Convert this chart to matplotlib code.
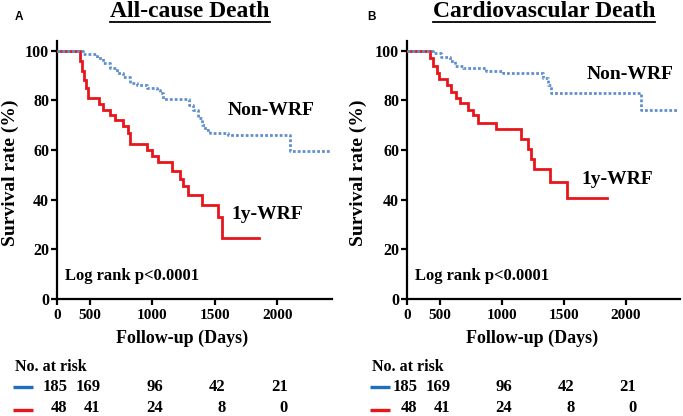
import numpy as np
import matplotlib
matplotlib.use("Agg")
import matplotlib.pyplot as plt
import matplotlib.transforms as mtransforms
from matplotlib.lines import Line2D

# ---------------- data ----------------
a_wrf_t = [0, 350, 380, 410, 440, 475, 575, 607, 660, 700, 767, 807, 820, 954, 994,
           1047, 1154, 1221, 1247, 1287, 1395, 1528, 1555, 1856]
a_wrf_s = [100, 96, 92, 88, 85, 81, 78.7, 76, 74, 72, 69.5, 67, 62.5, 60, 57.5,
           55, 51.5, 48.5, 45.5, 42, 38, 33, 24.5, 24.5]
a_non_t = [0, 400, 553, 607, 660, 714, 767, 820, 874, 954, 1034, 1061, 1087, 1290,
           1327, 1367, 1394, 1421, 1461, 1608, 2104, 2424]
a_non_s = [100, 98.5, 97, 95, 93, 91, 89.5, 87, 86, 85, 84, 83, 80.5, 78,
           76, 73, 70, 68, 67, 66, 59.5, 59.5]

b_wrf_t = [0, 350, 400, 450, 495, 559, 594, 634, 666, 727, 767, 807, 955, 1155,
           1208, 1235, 1262, 1388, 1529, 1850]
b_wrf_s = [100, 97, 94, 91, 88.5, 86, 83.5, 81, 79, 76, 74, 71, 68.5, 64.5,
           60.5, 56.5, 52.5, 47, 40.5, 40.5]
b_non_t = [0, 400, 513, 580, 620, 687, 874, 1008, 1328, 1368, 1395, 2118, 2410]
b_non_s = [100, 99, 97.5, 96, 94, 93, 92, 91, 89, 86, 83, 76, 76]

titles = ["All-cause Death", "Cardiovascular Death"]
panel_letters = ["A", "B"]
group_names = ["Non-WRF", "1y-WRF"]
xticks = [0, 500, 1000, 1500, 2000]
yticks = [0, 20, 40, 60, 80, 100]
risk_times = [0, 500, 1000, 1500, 2000]
risk_non = [185, 169, 96, 42, 21]
risk_wrf = [48, 41, 24, 8, 0]

RED = "#e8161c"
BLUE_LINE = "#5f8fcf"
BLUE_RISK = "#1f6fc0"
SERIF = "Liberation Serif"

W, H = 683, 416
fig = plt.figure(figsize=(W / 100, H / 100), dpi=100)
fig.patch.set_facecolor("white")

def fx(px):
    return px / W

def fy(py):
    return 1 - py / H

K = 0.534
def fwd(x):
    x = np.asarray(x, dtype=float)
    return np.where(x < 500, x * K, 500 * K + (x - 500))

def inv(y):
    y = np.asarray(y, dtype=float)
    return np.where(y < 500 * K, y / K, y - 500 * K + 500)

panels = [
    dict(left=56.7, right=331.7, wt=a_wrf_t, ws=a_wrf_s, nt=a_non_t, ns=a_non_s,
         non_lab=(1950, 76), wrf_lab=(1920, 34), letter_x=15, title_x=190,
         ylab_x=10, xlab_x=182, risk_x=15),
    dict(left=406.7, right=680.0, wt=b_wrf_t, ws=b_wrf_s, nt=b_non_t, ns=b_non_s,
         non_lab=(2034, 90.3), wrf_lab=(1930, 48), letter_x=367, title_x=544,
         ylab_x=358.3, xlab_x=531.7, risk_x=371.7),
]

top_px, bot_px = 40.7, 299.0

for i, p in enumerate(panels):
    ax = fig.add_axes([fx(p["left"]), fy(bot_px), fx(p["right"] - p["left"]),
                       (bot_px - top_px) / H])
    ax.set_xscale("function", functions=(fwd, inv))
    ax.plot(p["wt"], p["ws"], drawstyle="steps-post", color=RED, lw=2.0,
            solid_joinstyle="miter", zorder=3)
    ax.plot(p["nt"], p["ns"], drawstyle="steps-post", color=BLUE_LINE, lw=2.0,
            linestyle=(0, (1, 0.75)), zorder=4)
    ax.set_xlim(0, 2436)
    ax.set_ylim(0, 104)
    ax.set_xticks(xticks)
    ax.set_xticklabels([str(t) for t in xticks])
    ax.set_yticks(yticks)
    ax.set_yticklabels([str(t) for t in yticks])
    for s in ["top", "right"]:
        ax.spines[s].set_visible(False)
    for s in ["left", "bottom"]:
        ax.spines[s].set_linewidth(1.6)
    ax.tick_params(axis="both", direction="out", length=4, width=1.6)
    ax.tick_params(axis="x", pad=3.5, labelsize=11)
    ax.tick_params(axis="y", pad=1.5, labelsize=11.5)
    for lab in ax.get_xticklabels() + ax.get_yticklabels():
        lab.set_fontfamily(SERIF)
        lab.set_fontweight("bold")
    ax.minorticks_off()

    ax.text(p["non_lab"][0], p["non_lab"][1], group_names[0], ha="center", va="center",
            fontsize=14, fontweight="bold", family=SERIF)
    ax.text(p["wrf_lab"][0], p["wrf_lab"][1], group_names[1], ha="center", va="center",
            fontsize=14, fontweight="bold", family=SERIF)
    fig.text(fx(p["left"] + 8.5), fy(276), "Log rank p<0.0001", ha="left", va="center",
             fontsize=12, fontweight="bold", family=SERIF)

    # panel letter and title
    fig.text(fx(p["letter_x"]), fy(17.5), panel_letters[i], ha="left", va="center",
             fontsize=8.5, fontweight="bold", family="Liberation Sans")
    t = fig.text(fx(p["title_x"]), fy(16.7), titles[i], ha="center", va="baseline",
                 fontsize=17, fontweight="bold", family=SERIF)
    fig.canvas.draw()
    bb = t.get_window_extent()
    fig.add_artist(Line2D([bb.x0 / W, bb.x1 / W], [fy(21.7), fy(21.7)],
                          transform=fig.transFigure, color="black", lw=1.3))

    # axis labels
    fig.text(fx(p["ylab_x"]), fy(172.5), "Survival rate (%)", rotation=90,
             ha="center", va="center", fontsize=14, fontweight="bold", family=SERIF)
    fig.text(fx(p["xlab_x"]), fy(338), "Follow-up (Days)", ha="center", va="center",
             fontsize=13, fontweight="bold", family=SERIF)

    # risk table
    fig.text(fx(p["risk_x"]), fy(366.7), "No. at risk", ha="left", va="center",
             fontsize=11.5, fontweight="bold", family=SERIF)
    dash_x0 = p["risk_x"] - 1.7
    rows_y = [387.3, 408.3]
    for row_y, col in [(rows_y[0], BLUE_RISK), (rows_y[1] + 1.5, RED)]:
        fig.add_artist(Line2D([fx(dash_x0), fx(dash_x0 + 20)], [fy(row_y), fy(row_y)],
                              transform=fig.transFigure, color=col, lw=2.4,
                              solid_capstyle="butt"))
    tr = mtransforms.blended_transform_factory(ax.transData, fig.transFigure) + \
        mtransforms.ScaledTranslation(10.5 / 100, 0, fig.dpi_scale_trans)
    for tt, n1, n2 in zip(risk_times, risk_non, risk_wrf):
        fig.text(tt, fy(rows_y[0]), str(n1), transform=tr, ha="right", va="center",
                 fontsize=12, fontweight="bold", family=SERIF)
        fig.text(tt, fy(rows_y[1]), str(n2), transform=tr, ha="right", va="center",
                 fontsize=12, fontweight="bold", family=SERIF)

fig.savefig("out.png", dpi=100, facecolor="white")
